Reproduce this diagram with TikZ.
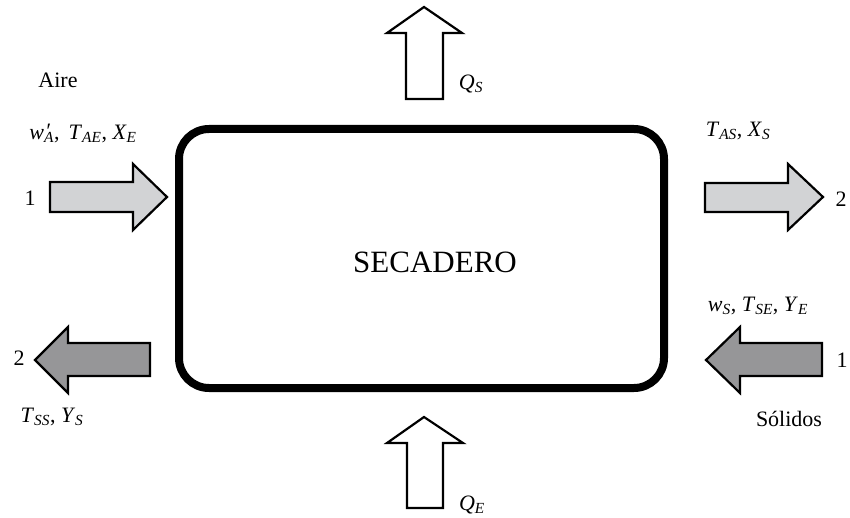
\documentclass[tikz,border=0pt]{standalone}
\usepackage{fontspec}
\setmainfont{Liberation Serif}
\definecolor{lightarr}{RGB}{210,211,213}
\definecolor{darkarr}{RGB}{150,150,152}
\newcommand{\iv}[2]{\textit{#1}\textsubscript{\textit{#2}}}
\begin{document}
\begin{tikzpicture}[x=1pt,y=-1pt,
  lbl/.style={font=\fontsize{22}{25}\selectfont, inner sep=0pt},
  arr/.style={draw=black, line width=2.2pt, line join=miter},
  box/.style={draw=black, line width=8pt, rounded corners=30pt}]
\useasboundingbox (0,0) rectangle (850,518);
% main box
\draw[box] (179,129) rectangle (664,388);
\node[font=\fontsize{31}{35}\selectfont, inner sep=0pt] (sec) at (435,262) {SECADERO};
% air inlet (left, light)
\draw[arr, fill=lightarr] (50,182) -- (133,182) -- (133,164) -- (167,197) -- (133,230) -- (133,212) -- (50,212) -- cycle;
% air outlet (right, light)
\draw[arr, fill=lightarr] (705,183) -- (788,183) -- (788,164) -- (823,197) -- (788,230) -- (788,212) -- (705,212) -- cycle;
% solids outlet (left, dark)
\draw[arr, fill=darkarr] (150,343) -- (68,343) -- (68,327) -- (35,360) -- (68,393) -- (68,376) -- (150,376) -- cycle;
% solids inlet (right, dark)
\draw[arr, fill=darkarr] (822,343) -- (740,343) -- (740,327) -- (706,360) -- (740,393) -- (740,376) -- (822,376) -- cycle;
% heat out (top)
\draw[arr, fill=white] (406,99) -- (406,33) -- (387,33) -- (424,7) -- (462,33) -- (443,33) -- (443,99) -- cycle;
% heat in (bottom)
\draw[arr, fill=white] (407,508) -- (407,443) -- (387,443) -- (424,417) -- (463,443) -- (443,443) -- (443,508) -- cycle;
% labels
\node[lbl] (aire) at (58,80) {Aire};
\node[lbl] (ain) at (83,133) {\textit{w}\makebox[0pt][l]{\kern1pt\raisebox{0.1ex}{\textit{′}}}\textsubscript{\textit{A}},\, \iv{T}{AE}, \iv{X}{E}};
\node[lbl] (n1l) at (30,198) {1};
\node[lbl] (aout) at (738,131) {\iv{T}{AS}, \iv{X}{S}};
\node[lbl] (n2r) at (841,199) {2};
\node[lbl] (n2l) at (19,358) {2};
\node[lbl] (sout) at (52,417) {\iv{T}{SS}, \iv{Y}{S}};
\node[lbl] (sin) at (758,306) {\iv{w}{S}, \iv{T}{SE}, \iv{Y}{E}};
\node[lbl] (n1r) at (842,360) {1};
\node[lbl] (sol) at (789,419) {Sólidos};
\node[lbl] (qs) at (471,84) {\iv{Q}{S}};
\node[lbl] (qe) at (472,505) {\iv{Q}{E}};
\end{tikzpicture}
\end{document}
